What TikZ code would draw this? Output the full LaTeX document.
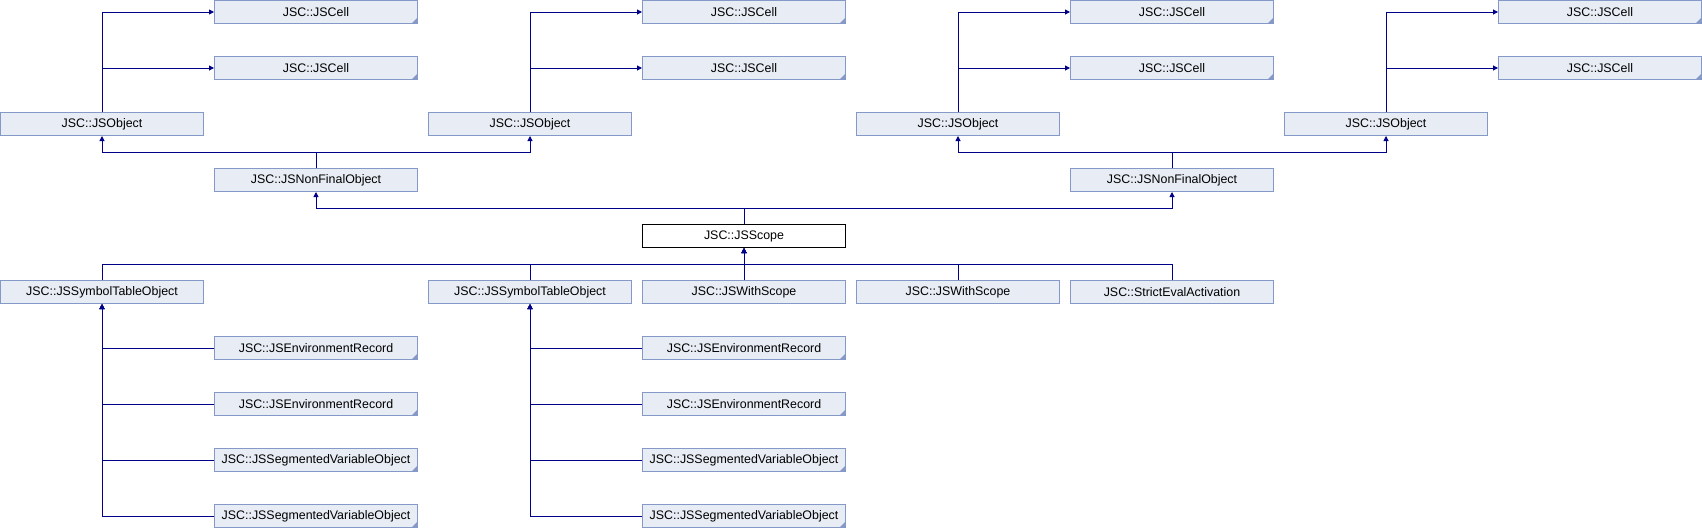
\documentclass[tikz,border=0pt]{standalone}
\usepackage{fontspec}
\setmainfont{Liberation Sans}
\usepackage{tikz}
\usetikzlibrary{positioning,arrows.meta}

\definecolor{boxfill}{RGB}{232,236,244}
\definecolor{boxline}{RGB}{132,153,200}
\definecolor{edge}{RGB}{0,0,136}

\begin{document}
\begin{tikzpicture}[
      x=1pt, y=1pt,
      cls/.style={rectangle, draw=boxline, fill=boxfill, line width=1pt, inner sep=0pt,
        minimum width=203pt, minimum height=23pt, anchor=north west,
        font=\fontsize{12.4}{14}\selectfont},
      more/.style={cls, path picture={\fill[boxline] (path picture bounding box.south east)
        -- ++(-6,0) -- ++(6,6) -- cycle;}},
      focus/.style={cls, draw=black, fill=white},
      inh/.style={draw=edge, line width=1pt, -{Triangle[length=5pt,width=5pt]}},
    ]
    \useasboundingbox (0,0) rectangle (1702,-528);

    % Nodes
    \node[more] (cellA1) at (214,0) {JSC::JSCell};
    \node[more] (cellA2) at (214,-56) {JSC::JSCell};
    \node[more] (cellB1) at (642,0) {JSC::JSCell};
    \node[more] (cellB2) at (642,-56) {JSC::JSCell};
    \node[more] (cellC1) at (1070,0) {JSC::JSCell};
    \node[more] (cellC2) at (1070,-56) {JSC::JSCell};
    \node[more] (cellD1) at (1498,0) {JSC::JSCell};
    \node[more] (cellD2) at (1498,-56) {JSC::JSCell};

    \node[cls] (objA) at (0,-112) {JSC::JSObject};
    \node[cls] (objB) at (428,-112) {JSC::JSObject};
    \node[cls] (objC) at (856,-112) {JSC::JSObject};
    \node[cls] (objD) at (1284,-112) {JSC::JSObject};

    \node[cls] (nfoA) at (214,-168) {JSC::JSNonFinalObject};
    \node[cls] (nfoB) at (1070,-168) {JSC::JSNonFinalObject};

    \node[focus] (scope) at (642,-224) {JSC::JSScope};

    \node[cls] (symA) at (0,-280) {JSC::JSSymbolTableObject};
    \node[cls] (symB) at (428,-280) {JSC::JSSymbolTableObject};
    \node[cls] (withA) at (642,-280) {JSC::JSWithScope};
    \node[cls] (withB) at (856,-280) {JSC::JSWithScope};
    \node[cls] (strict) at (1070,-280) {JSC::StrictEvalActivation};

    \node[more] (envA1) at (214,-336) {JSC::JSEnvironmentRecord};
    \node[more] (envA2) at (214,-392) {JSC::JSEnvironmentRecord};
    \node[more] (segA1) at (214,-448) {JSC::JSSegmentedVariableObject};
    \node[more] (segA2) at (214,-504) {JSC::JSSegmentedVariableObject};
    \node[more] (envB1) at (642,-336) {JSC::JSEnvironmentRecord};
    \node[more] (envB2) at (642,-392) {JSC::JSEnvironmentRecord};
    \node[more] (segB1) at (642,-448) {JSC::JSSegmentedVariableObject};
    \node[more] (segB2) at (642,-504) {JSC::JSSegmentedVariableObject};

    % Arrows
    \draw[inh] (objA.north) |- (cellA1.west);
    \draw[inh] (objA.north) |- (cellA2.west);
    \draw[inh] (objB.north) |- (cellB1.west);
    \draw[inh] (objB.north) |- (cellB2.west);
    \draw[inh] (objC.north) |- (cellC1.west);
    \draw[inh] (objC.north) |- (cellC2.west);
    \draw[inh] (objD.north) |- (cellD1.west);
    \draw[inh] (objD.north) |- (cellD2.west);

    \draw[inh] (nfoA.north) -- ++(0,16) -| (objA.south);
    \draw[inh] (nfoA.north) -- ++(0,16) -| (objB.south);
    \draw[inh] (nfoB.north) -- ++(0,16) -| (objC.south);
    \draw[inh] (nfoB.north) -- ++(0,16) -| (objD.south);

    \draw[inh] (scope.north) -- ++(0,16) -| (nfoA.south);
    \draw[inh] (scope.north) -- ++(0,16) -| (nfoB.south);

    \draw[inh] (symA.north) -- ++(0,16) -| (scope.south);
    \draw[inh] (symB.north) -- ++(0,16) -| (scope.south);
    \draw[inh] (withA.north) -- (scope.south);
    \draw[inh] (withB.north) -- ++(0,16) -| (scope.south);
    \draw[inh] (strict.north) -- ++(0,16) -| (scope.south);

    \draw[inh] (envA1.west) -| (symA.south);
    \draw[inh] (envA2.west) -| (symA.south);
    \draw[inh] (segA1.west) -| (symA.south);
    \draw[inh] (segA2.west) -| (symA.south);
    \draw[inh] (envB1.west) -| (symB.south);
    \draw[inh] (envB2.west) -| (symB.south);
    \draw[inh] (segB1.west) -| (symB.south);
    \draw[inh] (segB2.west) -| (symB.south);
  \end{tikzpicture}
\end{document}
